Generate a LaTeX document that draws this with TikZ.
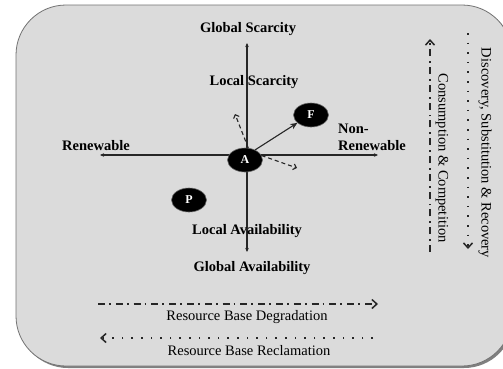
\documentclass[tikz,border=0pt]{standalone}
\usepackage{fontspec}
\setmainfont{Liberation Serif}
\usetikzlibrary{shapes.geometric,arrows.meta}

\begin{document}
\begin{tikzpicture}[
  x=1pt, y=-1pt,
  frame/.style={draw=black!55, line width=0.8pt, fill=black!14, rounded corners=50pt},
  lab/.style={font=\fontsize{14.5}{17}\selectfont\bfseries, inner sep=0pt},
  note/.style={font=\fontsize{14.5}{17}\selectfont, inner sep=0pt},
  agent/.style={ellipse, fill=black, draw=black!60, line width=0.6pt, minimum width=35pt, minimum height=24pt, inner sep=0pt, text=white, font=\fontsize{12}{12}\selectfont\bfseries},
  axis/.style={{Stealth[length=4pt,width=3.5pt]}-{Stealth[length=4pt,width=3.5pt]}, line width=1.1pt, black!85},
  move/.style={-{Stealth[length=7pt,width=6pt]}, line width=1.1pt, black!85},
  drift/.style={-{Straight Barb[length=3pt,width=6pt]}, line width=1.1pt, dash pattern=on 4pt off 3pt, black!85},
  dashdot/.style={line width=1.7pt, dash pattern=on 7pt off 4pt on 1.8pt off 5pt, black!85},
  dots/.style={line width=1.7pt, dash pattern=on 1.6pt off 8pt, black!85},
  barb/.tip={Straight Barb[length=5pt,width=9pt,line width=1.5pt]},
]

% ══ Canvas ══
\useasboundingbox (0,0) rectangle (503,368);
\clip (0,0) rectangle (503,368);
\fill[white] (0,0) rectangle (503,368);
\fill[black!50, rounded corners=50pt] (18,7) rectangle (514,368);
\draw[frame] (16,5) rectangle (512,366);

% ══ Axes ══
\coordinate (west) at (100,155);
\coordinate (east) at (378,155);
\coordinate (north) at (247,43);
\coordinate (south) at (247,252);

\draw[axis] (west) -- (east);
\draw[axis] (north) -- (south);

\node[lab] (gscar) at (248,29) {Global Scarcity};
\node[lab] (lscar) at (254,82) {Local Scarcity};
\node[lab] (lavail) at (247,231) {Local Availability};
\node[lab] (gavail) at (252,268) {Global Availability};
\node[lab] (renew) at (96,146) {Renewable};
\node[lab, anchor=west, align=left] (nonrenew) at (338,137) {Non-\\Renewable};

% ══ Actors ══
\node[agent] (A) at (245,160) {A};
\node[agent] (F) at (311,115) {F};
\node[agent] (P) at (189,200) {P};

\coordinate (tup) at (235,114);
\coordinate (tright) at (297,168);

\draw[move] (A.45) -- (F.210);
\draw[drift] (A.75) -- (tup);
\draw[drift] (A.15) -- (tright);

% ══ Right side trends ══
\coordinate (dtop) at (468,33);
\coordinate (dbot) at (468,249);
\coordinate (ctop) at (430,39);
\coordinate (cbot) at (430,252);

\draw[dots, -barb] (dtop) -- (dbot);
\draw[dashdot, -barb] (cbot) -- (ctop);

\node[note, rotate=-90] (discover) at (485,153) {Discovery, Substitution \& Recovery};
\node[note, rotate=-90] (consume) at (442,158) {Consumption \& Competition};

% ══ Bottom trends ══
\coordinate (gleft) at (98,304);
\coordinate (gright) at (378,304);
\coordinate (rleft) at (100,338);
\coordinate (rright) at (373,338);

\draw[dashdot, -barb] (gleft) -- (gright);
\draw[dots, -barb] (rright) -- (rleft);

\node[note] (degrade) at (247,317) {Resource Base Degradation};
\node[note] (reclaim) at (249,351) {Resource Base Reclamation};

\end{tikzpicture}
\end{document}
